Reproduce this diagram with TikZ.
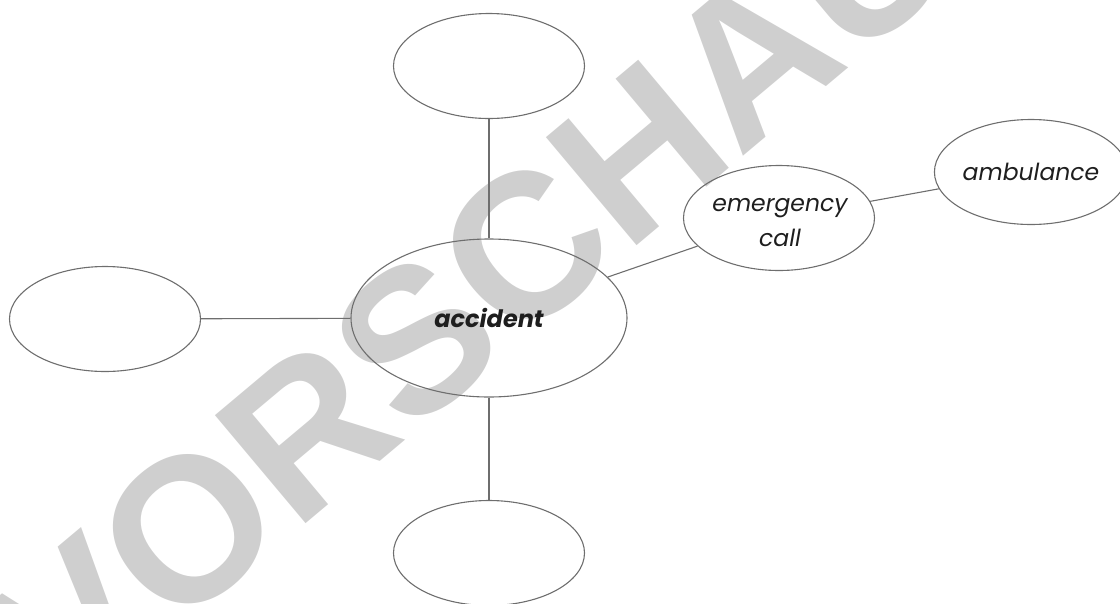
\documentclass[tikz,border=0pt]{standalone}
\usepackage{fontspec}
\setmainfont{Poppins}
\newfontfamily\wmfont{Liberation Sans}
\usetikzlibrary{shapes.geometric}
\definecolor{linegray}{HTML}{6E6E6E}
\definecolor{wmgray}{HTML}{CFCFCF}
\definecolor{txt}{HTML}{1E1E1E}
\tikzset{
  bubble/.style={ellipse, draw=linegray, line width=1.1pt, inner sep=0pt,
    minimum width=191pt, minimum height=105pt, text=txt, align=center,
    font=\fontsize{23.5}{35}\selectfont\itshape},
  lbl/.style={inner sep=0pt, text=txt, align=center,
    font=\fontsize{23.5}{35}\selectfont\itshape},
  link/.style={draw=linegray, line width=1.1pt},
  watermark/.style={text=wmgray, inner sep=0pt, anchor=base west, rotate=40,
    font=\wmfont\bfseries\fontsize{205}{205}\selectfont}
}
\begin{document}
\begin{tikzpicture}[x=1pt,y=-1pt]
\useasboundingbox (0,0) rectangle (1120,603);
\clip (0,0) rectangle (1120,603);
\node[watermark] (wm) at (68,723) {VORSCHAU};
\node[bubble, minimum width=276pt, minimum height=158pt,
  font=\fontsize{24}{30}\selectfont\bfseries\itshape] (acc) at (489,318) {accident};
\node[bubble] (top) at (489,66) {};
\node[bubble] (left) at (105,319) {};
\node[bubble] (bot) at (489,553) {};
\node[bubble] (em) at (779,218) {};
\node[lbl] (emt) at (780,223) {emergency\\call};
\node[bubble, minimum width=186pt] (amb) at (1031,172) {ambulance};
\draw[link] (top) -- (acc);
\draw[link] (left) -- (acc);
\draw[link] (acc) -- (bot);
\draw[link] (acc) -- (em);
\draw[link] (em) -- (amb);
\end{tikzpicture}
\end{document}
